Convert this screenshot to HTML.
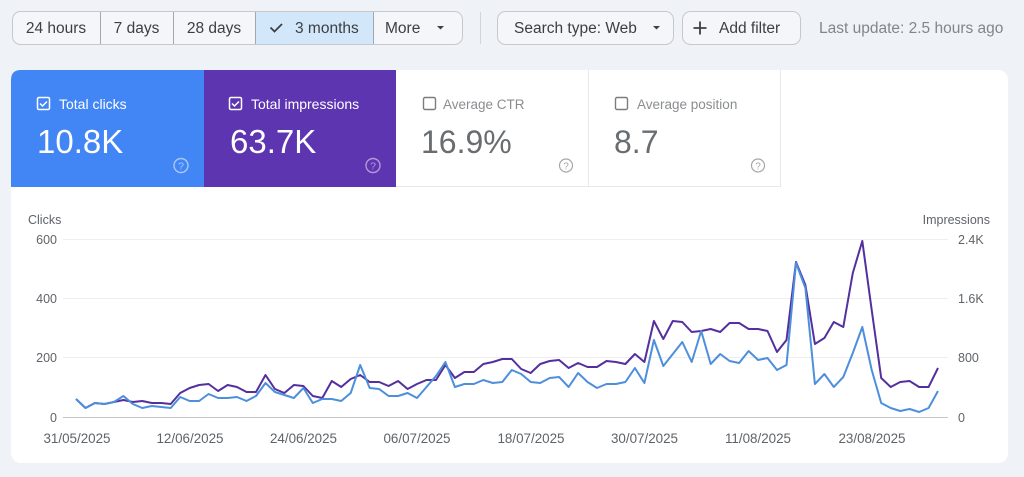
<!DOCTYPE html>
<html><head><meta charset="utf-8"><style>
html,body{margin:0;padding:0;background:#eff2f7;width:1024px;height:477px;overflow:hidden}
svg{display:block;font-family:"Liberation Sans",Arial,sans-serif}
</style></head><body>
<svg width="1024" height="477" viewBox="0 0 1024 477" xmlns="http://www.w3.org/2000/svg">
<rect x="0" y="0" width="1024" height="477" fill="#eff2f7"/>

<!-- segmented buttons -->
<rect x="12.5" y="11.5" width="450" height="33" rx="8" fill="#f4f6f9" stroke="#c5c9ce"/>
<rect x="255.5" y="12" width="118" height="32" fill="#d3e7fb"/>
<g stroke="#a3a8ad" stroke-width="1">
<line x1="100.5" y1="12" x2="100.5" y2="44"/>
<line x1="173.5" y1="12" x2="173.5" y2="44"/>
<line x1="255.5" y1="12" x2="255.5" y2="44"/>
<line x1="373.5" y1="12" x2="373.5" y2="44"/>
</g>
<g font-size="15.5" fill="#3c4043">
<text x="56" y="33" text-anchor="middle">24 hours</text>
<text x="136.5" y="33" text-anchor="middle">7 days</text>
<text x="214" y="33" text-anchor="middle">28 days</text>
<text x="295" y="33">3 months</text>
<text x="385" y="33">More</text>
</g>
<path d="M270.5 27.5 l4 4 l7.5 -7.5" fill="none" stroke="#3c4043" stroke-width="1.8"/>
<path d="M437 26 h7 l-3.5 3.5z" fill="#3c4043"/>

<line x1="480.5" y1="12" x2="480.5" y2="44" stroke="#d2d6db"/>

<rect x="497.5" y="11.5" width="176" height="33" rx="8" fill="#f4f6f9" stroke="#c5c9ce"/>
<text x="514" y="33" font-size="15.5" fill="#3c4043">Search type: Web</text>
<path d="M653 26 h7 l-3.5 3.5z" fill="#3c4043"/>

<rect x="682.5" y="11.5" width="118" height="33" rx="8" fill="#f4f6f9" stroke="#c5c9ce"/>
<path d="M700 21.5 v13 M693.5 28 h13" stroke="#3c4043" stroke-width="1.8"/>
<text x="719" y="33" font-size="15.5" fill="#3c4043">Add filter</text>

<text x="819" y="33" font-size="15.5" fill="#80868b">Last update: 2.5 hours ago</text>

<!-- card -->
<rect x="11" y="70" width="997" height="393" rx="10" fill="#ffffff"/>
<path d="M11 187 V80 Q11 70 21 70 H204 V187 Z" fill="#4285f4"/>
<rect x="204" y="70" width="192" height="117" fill="#5e35b1"/>
<g stroke="#e6e8eb" stroke-width="1">
<line x1="588.5" y1="70" x2="588.5" y2="187"/>
<line x1="780.5" y1="70" x2="780.5" y2="187"/>
<line x1="396" y1="186.5" x2="781" y2="186.5"/>
</g>

<!-- tile 1 -->
<rect x="37.5" y="97.5" width="12" height="12" rx="1.5" fill="none" stroke="#ffffff" stroke-width="1.5"/>
<path d="M40 103.5 l2.5 2.5 l4.5 -4.5" fill="none" stroke="#ffffff" stroke-width="1.5"/>
<text x="59" y="109" font-size="14" fill="#ffffff">Total clicks</text>
<text x="37" y="153" font-size="33" fill="#ffffff">10.8K</text>
<circle cx="181" cy="165.5" r="7" fill="none" stroke="#a9c8fa" stroke-width="1.4"/>
<text x="181" y="169.5" font-size="10.5" fill="#a9c8fa" text-anchor="middle">?</text>

<!-- tile 2 -->
<rect x="229.5" y="97.5" width="12" height="12" rx="1.5" fill="none" stroke="#ffffff" stroke-width="1.5"/>
<path d="M232 103.5 l2.5 2.5 l4.5 -4.5" fill="none" stroke="#ffffff" stroke-width="1.5"/>
<text x="251" y="109" font-size="14" fill="#ffffff">Total impressions</text>
<text x="230" y="153" font-size="33" fill="#ffffff">63.7K</text>
<circle cx="373" cy="165.5" r="7" fill="none" stroke="#b09ad8" stroke-width="1.4"/>
<text x="373" y="169.5" font-size="10.5" fill="#b09ad8" text-anchor="middle">?</text>

<!-- tile 3 -->
<rect x="423.5" y="97.5" width="12" height="12" rx="1.5" fill="none" stroke="#7a7d80" stroke-width="1.4"/>
<text x="443" y="109" font-size="13.5" fill="#8a8d90">Average CTR</text>
<text x="421" y="153" font-size="32" fill="#6a6d70">16.9%</text>
<circle cx="566" cy="165.5" r="6.5" fill="none" stroke="#a4a7aa" stroke-width="1.2"/>
<text x="566" y="169.3" font-size="10" fill="#a4a7aa" text-anchor="middle">?</text>

<!-- tile 4 -->
<rect x="615.5" y="97.5" width="12" height="12" rx="1.5" fill="none" stroke="#7a7d80" stroke-width="1.4"/>
<text x="637" y="109" font-size="13.5" fill="#8a8d90">Average position</text>
<text x="614" y="153" font-size="32" fill="#6a6d70">8.7</text>
<circle cx="758" cy="165.5" r="6.5" fill="none" stroke="#a4a7aa" stroke-width="1.2"/>
<text x="758" y="169.3" font-size="10" fill="#a4a7aa" text-anchor="middle">?</text>

<!-- chart axes labels -->
<text x="28" y="224" font-size="12.5" fill="#5f6368">Clicks</text>
<text x="990" y="224" font-size="12.5" fill="#5f6368" text-anchor="end">Impressions</text>

<g stroke="#eeeeee" stroke-width="1">
<line x1="63" y1="239.5" x2="948" y2="239.5"/>
<line x1="63" y1="298.5" x2="948" y2="298.5"/>
<line x1="63" y1="357.5" x2="948" y2="357.5"/>
</g>
<line x1="63" y1="417.5" x2="948" y2="417.5" stroke="#c4c6c9" stroke-width="1"/>

<g font-size="12.5" fill="#5f6368" text-anchor="end">
<text x="57" y="244">600</text>
<text x="57" y="303">400</text>
<text x="57" y="362">200</text>
<text x="57" y="422">0</text>
</g>
<g font-size="12.5" fill="#5f6368">
<text x="958" y="244">2.4K</text>
<text x="958" y="303">1.6K</text>
<text x="958" y="362">800</text>
<text x="958" y="422">0</text>
</g>

<g font-size="13.4" fill="#5f6368" text-anchor="middle">
<text x="77" y="443">31/05/2025</text>
<text x="190" y="443">12/06/2025</text>
<text x="303.5" y="443">24/06/2025</text>
<text x="417" y="443">06/07/2025</text>
<text x="531" y="443">18/07/2025</text>
<text x="644.5" y="443">30/07/2025</text>
<text x="758" y="443">11/08/2025</text>
<text x="872" y="443">23/08/2025</text>
</g>

<!-- impressions -->
<polyline fill="none" stroke="#53309e" stroke-width="2" stroke-linejoin="round" points="
76.0,399 85.5,408 94.9,403 104.4,404 113.9,402 123.4,400 132.8,402 142.3,401 151.8,403 161.3,403
170.7,404 180.2,393 189.7,388 199.1,385 208.6,384 218.1,391 227.6,385 237.0,387 246.5,392 256.0,392
265.5,375 274.9,389 284.4,393 293.9,385 303.4,386 312.8,396 322.3,398 331.8,381 341.2,387 350.7,379
360.2,375 369.7,382 379.1,382 388.6,386 398.1,381 407.6,389 417.0,384 426.5,380 436.0,380 445.4,365
454.9,378 464.4,372 473.9,372 483.3,364 492.8,362 502.3,359 511.8,359 521.2,369 530.7,373 540.2,364
549.7,361 559.1,360 568.6,368 578.1,363 587.5,367 597.0,367 606.5,361 616.0,362 625.4,364 634.9,354
644.4,362 653.9,321 663.3,339 672.8,321 682.3,322 691.7,332 701.2,331 710.7,329 720.2,332 729.6,323
739.1,323 748.6,329 758.1,329 767.5,331 777.0,352 786.5,340 796.0,262 805.4,285 814.9,344 824.4,338
833.8,322 843.3,327 852.8,273 862.3,241 871.7,310 881.2,378 890.7,387 900.2,382 909.6,381 919.1,387
928.6,387 938.0,368"/>

<!-- clicks -->
<polyline fill="none" stroke="#4d8fdc" stroke-width="2" stroke-linejoin="round" points="
76.0,399 85.5,408 94.9,403 104.4,404 113.9,402 123.4,396 132.8,404 142.3,408 151.8,406 161.3,407
170.7,408 180.2,397 189.7,401 199.1,401 208.6,394 218.1,398 227.6,398 237.0,397 246.5,401 256.0,396
265.5,383 274.9,392 284.4,395 293.9,398 303.4,388 312.8,403 322.3,399 331.8,399 341.2,401 350.7,393
360.2,365 369.7,388 379.1,389 388.6,396 398.1,396 407.6,393 417.0,398 426.5,387 436.0,376 445.4,362
454.9,387 464.4,384 473.9,384 483.3,380 492.8,383 502.3,382 511.8,370 521.2,374 530.7,382 540.2,383
549.7,378 559.1,377 568.6,387 578.1,373 587.5,382 597.0,388 606.5,384 616.0,384 625.4,382 634.9,368
644.4,383 653.9,340 663.3,366 672.8,354 682.3,342 691.7,362 701.2,331 710.7,364 720.2,354 729.6,361
739.1,363 748.6,351 758.1,360 767.5,358 777.0,370 786.5,365 796.0,263 805.4,288 814.9,384 824.4,374
833.8,387 843.3,377 852.8,353 862.3,327 871.7,370 881.2,403 890.7,408 900.2,411 909.6,409 919.1,412
928.6,408 938.0,391"/>
</svg>
</body></html>
